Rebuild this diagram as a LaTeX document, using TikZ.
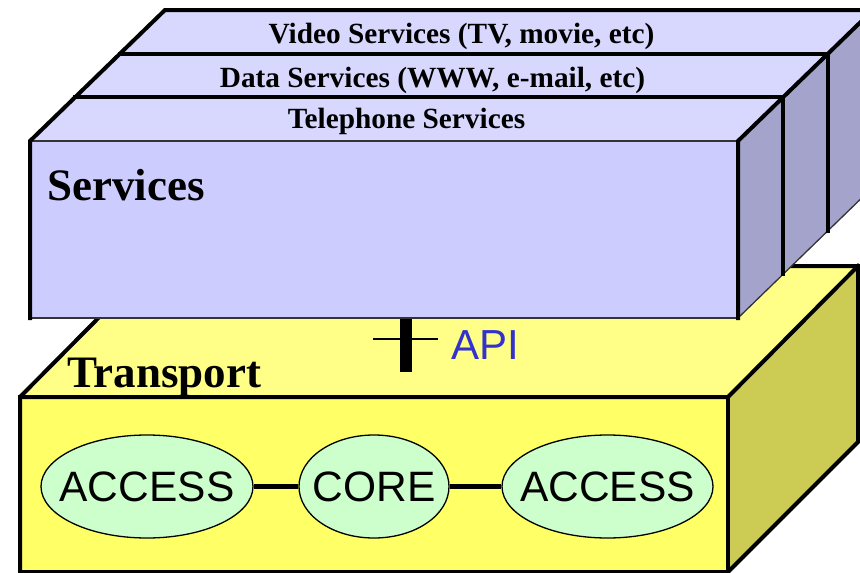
\documentclass[tikz,border=0pt]{standalone}
\usepackage{fontspec}
\setmainfont{Liberation Serif}
\newfontfamily\arialfont{Liberation Sans}
\usetikzlibrary{shapes.geometric}

\definecolor{svcTop}{RGB}{216,216,255}
\definecolor{svcFront}{RGB}{204,204,255}
\definecolor{svcSide}{RGB}{163,163,204}
\definecolor{trTop}{RGB}{255,255,136}
\definecolor{trFront}{RGB}{255,255,102}
\definecolor{trSide}{RGB}{204,204,84}
\definecolor{netFill}{RGB}{204,255,204}
\definecolor{apiBlue}{RGB}{51,51,204}

\newcommand{\centredword}[1]{\makebox[0pt][c]{#1}}

\tikzset{
  heavy/.style={line width=4pt, line join=miter, line cap=rect},
  fine/.style={line width=1.3pt, draw=black!80},
  layerLabel/.style={inner sep=0pt, anchor=base,
    font=\fontsize{29.3}{34}\selectfont\bfseries},
  bigLabel/.style={inner sep=0pt, anchor=base west,
    font=\fontsize{45}{52}\selectfont\bfseries},
  netnode/.style={ellipse, draw=black, line width=1.3pt, fill=netFill,
    inner sep=0pt, minimum height=103,
    font=\arialfont\fontsize{42.5}{48}\selectfont},
  link/.style={line width=5pt},
  apiLabel/.style={inner sep=0pt, anchor=base west, text=apiBlue,
    font=\arialfont\fontsize{42}{48}\selectfont}
}

\begin{document}
\begin{tikzpicture}[x=1pt,y=-1pt]
\useasboundingbox (0,0) rectangle (860,573);
\clip (0,0) rectangle (860,573);

% ---------- transport slab ----------
\fill[trTop] (20,397) -- (728,397) -- (858,266) -- (150,266) -- cycle;
\fill[trFront] (20,397) rectangle (728,572);
\fill[trSide] (728,397) -- (858,266) -- (858,442) -- (728,572) -- cycle;
\draw[heavy] (20,572) -- (20,397) -- (150,266) -- (858,266) -- (858,442) -- (728,572) -- cycle;
\draw[heavy] (20,397) -- (728,397) -- (858,266);
\draw[heavy] (728,397) -- (728,572);

\node[bigLabel] (transportLabel) at (67,387) {Transport};

% network elements
\node[netnode, minimum width=212] (accessL) at (147,486.5) {\centredword{ACCESS}};
\node[netnode, minimum width=150] (core) at (374,486.5) {\centredword{CORE}};
\node[netnode, minimum width=211] (accessR) at (607.5,486.5) {\centredword{ACCESS}};
\draw[link] (accessL) -- (core);
\draw[link] (core) -- (accessR);

% ---------- API connector ----------
\coordinate (apiTop) at (406,318);
\coordinate (apiBottom) at (406,372);
\coordinate (tickL) at (373,339);
\coordinate (tickR) at (438,339);
\draw[line width=12pt] (apiTop) -- (apiBottom);
\draw[line width=2pt] (tickL) -- (tickR);
\node[apiLabel] (api) at (451,359) {API};

% ---------- services block (three stacked slabs) ----------
% top strips
\fill[svcTop] (30,141) -- (738,141) -- (783,97.3) -- (75,97.3) -- cycle;
\fill[svcTop] (75,97.3) -- (783,97.3) -- (828,53.6) -- (120,53.6) -- cycle;
\fill[svcTop] (120,53.6) -- (828,53.6) -- (873,10) -- (165,10) -- cycle;
% side faces
\fill[svcSide] (738,141) -- (873,10) -- (873,187) -- (738,318) -- cycle;
% front face
\fill[svcFront] (30,141) rectangle (738,318);
\draw[fine] (30,141) -- (738,141);
\draw[fine] (30,318) -- (738,318);
\draw[fine] (738,318) -- (873,187);
% outlines
\draw[heavy] (30,318) -- (30,141) -- (165,10) -- (873,10);
\draw[heavy] (738,318) -- (738,141) -- (873,10);
\draw[heavy] (75,97.3) -- (783,97.3) -- (783,274.3);
\draw[heavy] (120,53.6) -- (828,53.6) -- (828,230.6);
\draw[heavy] (873,10) -- (873,187);

\node[layerLabel] (videoLabel) at (461.5,43) {Video Services (TV, movie, etc)};
\node[layerLabel] (dataLabel) at (432.5,87) {Data Services (WWW, e-mail, etc)};
\node[layerLabel] (phoneLabel) at (406.5,128) {Telephone Services};
\node[bigLabel] (servicesLabel) at (47,200) {Services};
\end{tikzpicture}
\end{document}
